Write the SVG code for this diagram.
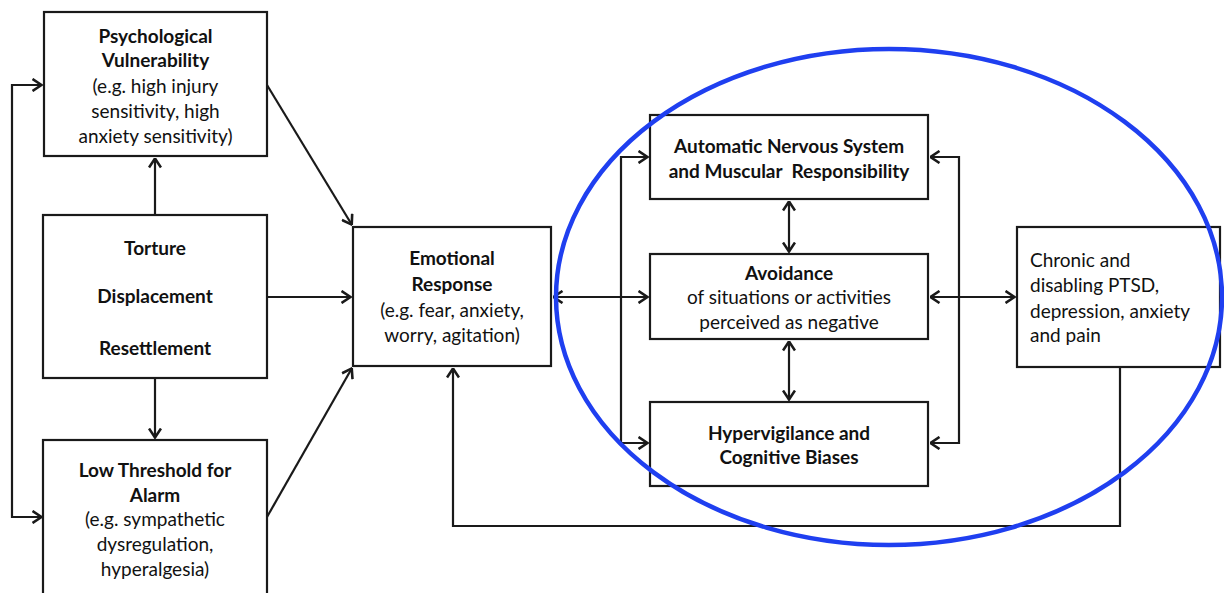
<svg xmlns="http://www.w3.org/2000/svg" width="1224" height="593" viewBox="0 0 1224 593">
<defs>
<style>
.box{fill:#fff;stroke:#1a1a1a;stroke-width:2.2}
.t{font-family:Lato,"Open Sans","Liberation Sans",sans-serif;font-size:19px;fill:#111;text-anchor:middle}
.b{font-weight:bold}
.l{text-anchor:start}
.c{fill:none;stroke:#1a1a1a;stroke-width:2.2}
</style>
<marker id="ah" viewBox="0 0 11 14" refX="10.5" refY="7" markerWidth="11" markerHeight="14" markerUnits="userSpaceOnUse" orient="auto-start-reverse">
<path d="M1,1 L10,7 L1,13" fill="none" stroke="#1a1a1a" stroke-width="2.6"/>
</marker>
</defs>
<rect width="1224" height="593" fill="#fff"/>
<g id="connectors">
<path class="c" d="M42,85 H12 V517 H42" marker-start="url(#ah)" marker-end="url(#ah)"/>
<path class="c" d="M155,215 V158" marker-end="url(#ah)"/>
<path class="c" d="M155,378 V438" marker-end="url(#ah)"/>
<path class="c" d="M267,85 L352,225" marker-end="url(#ah)"/>
<path class="c" d="M267,297 H351" marker-end="url(#ah)"/>
<path class="c" d="M267,517 L352,368" marker-end="url(#ah)"/>
<path class="c" d="M553,297 H648" marker-start="url(#ah)" marker-end="url(#ah)"/>
<path class="c" d="M648,157 H621 V443 H648" marker-start="url(#ah)" marker-end="url(#ah)"/>
<path class="c" d="M930,157 H959 V443 H930" marker-start="url(#ah)" marker-end="url(#ah)"/>
<path class="c" d="M789,201 V252" marker-start="url(#ah)" marker-end="url(#ah)"/>
<path class="c" d="M789,341 V400" marker-start="url(#ah)" marker-end="url(#ah)"/>
<path class="c" d="M930,297 H1015" marker-start="url(#ah)" marker-end="url(#ah)"/>
<path class="c" d="M1120,367 V526 H453 V368" marker-end="url(#ah)"/>
</g>
<g id="psych">
<rect class="box" x="44" y="12" width="223" height="144"/>
<text class="t b" x="155.5" y="43">Psychological</text>
<text class="t b" x="155.5" y="67">Vulnerability</text>
<text class="t" x="155.5" y="93">(e.g. high injury</text>
<text class="t" x="155.5" y="118">sensitivity, high</text>
<text class="t" x="155.5" y="143">anxiety sensitivity)</text>
</g>
<g id="torture">
<rect class="box" x="43" y="215" width="224" height="163"/>
<text class="t b" x="155" y="255">Torture</text>
<text class="t b" x="155" y="303">Displacement</text>
<text class="t b" x="155" y="355">Resettlement</text>
</g>
<g id="lowthreshold">
<rect class="box" x="43" y="440" width="224" height="165"/>
<text class="t b" x="155" y="477">Low Threshold for</text>
<text class="t b" x="155" y="502">Alarm</text>
<text class="t" x="155" y="526">(e.g. sympathetic</text>
<text class="t" x="155" y="551">dysregulation,</text>
<text class="t" x="155" y="576">hyperalgesia)</text>
</g>
<g id="emotional">
<rect class="box" x="353" y="227" width="198" height="139"/>
<text class="t b" x="452" y="265">Emotional</text>
<text class="t b" x="452" y="291">Response</text>
<text class="t" x="452" y="317">(e.g. fear, anxiety,</text>
<text class="t" x="452" y="342">worry, agitation)</text>
</g>
<g id="ans">
<rect class="box" x="650" y="115" width="278" height="84"/>
<text class="t b" x="789" y="153">Automatic Nervous System</text>
<text class="t b" x="789" y="178" xml:space="preserve">and Muscular  Responsibility</text>
</g>
<g id="avoidance">
<rect class="box" x="650" y="254" width="278" height="85"/>
<text class="t b" x="789" y="280">Avoidance</text>
<text class="t" x="789" y="304">of situations or activities</text>
<text class="t" x="789" y="329">perceived as negative</text>
</g>
<g id="hyper">
<rect class="box" x="650" y="402" width="278" height="84"/>
<text class="t b" x="789" y="440">Hypervigilance and</text>
<text class="t b" x="789" y="464">Cognitive Biases</text>
</g>
<g id="chronic">
<rect class="box" x="1017" y="227" width="203" height="140"/>
<text class="t l" x="1030" y="267">Chronic and</text>
<text class="t l" x="1030" y="292">disabling PTSD,</text>
<text class="t l" x="1030" y="318">depression, anxiety</text>
<text class="t l" x="1030" y="342">and pain</text>
</g>
<g id="highlight">
<ellipse cx="889" cy="297" rx="333" ry="248" fill="none" stroke="#1f3ff0" stroke-width="4.5"/>
</g>
</svg>
